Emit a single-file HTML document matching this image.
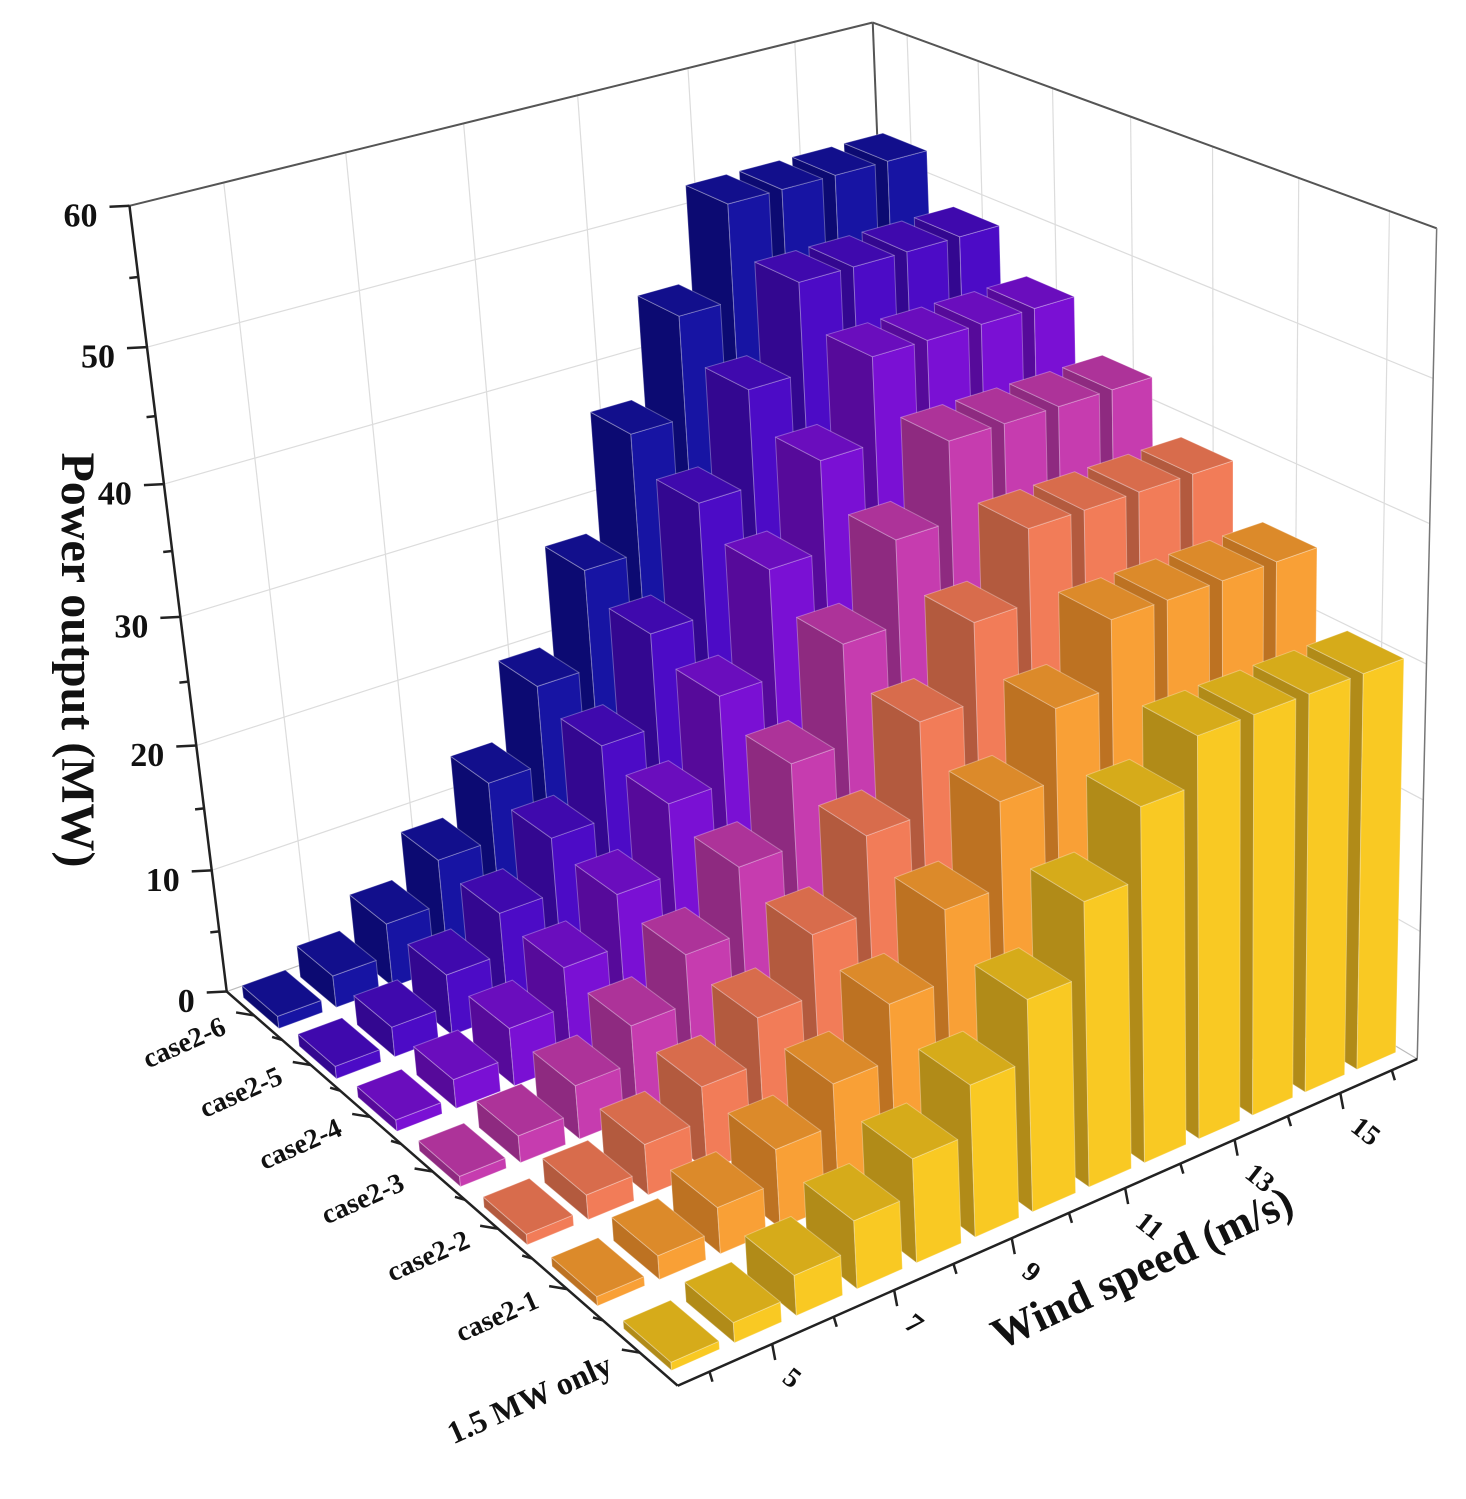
<!DOCTYPE html>
<html><head><meta charset="utf-8"><title>Power output 3D bars</title>
<style>
html,body{margin:0;padding:0;background:#fff;}
svg{display:block;}
text{font-family:"Liberation Serif",serif;font-weight:bold;fill:#111;}
</style></head>
<body>
<svg id="chart" width="1466" height="1499" viewBox="0 0 1466 1499" xmlns="http://www.w3.org/2000/svg">
  <rect x="0" y="0" width="1466" height="1499" fill="#fff"/>
  <g id="walls"></g>
  <g id="bars"></g>
  <g id="axes"></g>
  <text transform="translate(62,660) rotate(90)" text-anchor="middle" font-size="48">Power output (MW)</text>
  <text transform="translate(1142,1268) rotate(-25)" text-anchor="middle" dominant-baseline="central" font-size="44">Wind speed (m/s)</text>
</svg>
<script>
// ---- data ----
const winds = [4,5,6,7,8,9,10,11,12,13,14,15,16];
const cases = ['case2-6','case2-5','case2-4','case2-3','case2-2','case2-1','1.5 MW only'];
const case26 = [1.0,2.6,5.2,8.8,13.5,19.8,27.6,36.9,44.7,52,52,52,52];
const case25 = [1.0,2.4,4.9,8.2,12.6,18.4,25.7,34.4,41.7,48.5,48.5,48.5,48.5];
const case24 = [0.9,2.3,4.6,7.7,11.8,17.3,24.1,32.3,39.1,45.5,45.5,45.5,45.5];
const case23 = [0.8,2.1,4.2,7.1,10.9,16.0,22.3,29.8,36.1,42,42,42,42];
const case22 = [0.8,1.9,3.9,6.5,10.0,14.6,20.4,27.3,33.1,38.5,38.5,38.5,38.5];
const case21 = [0.7,1.8,3.5,6.0,9.1,13.3,18.6,24.9,30.1,35,35,35,35];
const only15 = [0.6,1.5,3.0,5.1,7.8,11.4,15.9,21.3,26.5,30,30,30,30];
const zTicks = [0,10,20,30,40,50,60];
const windTickLabels = [5,7,9,11,13,15];

const series = [case26,case25,case24,case23,case22,case21,only15];
const palette = [
  {f:'#1714a3',s:'#0c0a72',t:'#120f8c'},
  {f:'#4c0bc6',s:'#330790',t:'#3f09ad'},
  {f:'#7a10d4',s:'#560a9a',t:'#6a0dbd'},
  {f:'#c63caf',s:'#8e2a80',t:'#ad3399'},
  {f:'#f27c58',s:'#b35a3e',t:'#d86c4c'},
  {f:'#f9a036',s:'#bd7222',t:'#dc8a2a'},
  {f:'#f9c923',s:'#b18b18',t:'#d6ab1a'}
];

// ---- camera fit (DLT) ----
const calib = [
  [3.5,0.5,0,227,992],[3.5,0.5,60,130,205],[3.5,0.5,50,147,348],[16.5,0.5,60,872,22],
  [16.5,7.5,0,1415,1060],[16.5,7.5,60,1437,229],[3.5,7.5,0,673,1387],
  [5,7.5,0,776,1342],[15,7.5,0,1343,1092]
];
function solveLin(A,b){
  const n=b.length;
  for(let i=0;i<n;i++){
    let p=i;for(let k=i+1;k<n;k++)if(Math.abs(A[k][i])>Math.abs(A[p][i]))p=k;
    [A[i],A[p]]=[A[p],A[i]];[b[i],b[p]]=[b[p],b[i]];
    for(let k=i+1;k<n;k++){const f=A[k][i]/A[i][i];for(let j=i;j<n;j++)A[k][j]-=f*A[i][j];b[k]-=f*b[i];}
  }
  const x=new Array(n).fill(0);
  for(let i=n-1;i>=0;i--){let s=b[i];for(let j=i+1;j<n;j++)s-=A[i][j]*x[j];x[i]=s/A[i][i];}
  return x;
}
function fitCamera(){
  const M=[],r=[];
  calib.forEach(c=>{
    const X=c[0]/10,Y=c[1]/10,Z=c[2]/60,u=c[3]/1000,v=c[4]/1000;
    M.push([X,Y,Z,1,0,0,0,0,-u*X,-u*Y,-u*Z]);r.push(u);
    M.push([0,0,0,0,X,Y,Z,1,-v*X,-v*Y,-v*Z]);r.push(v);
  });
  const N=[],q=[];
  for(let i=0;i<11;i++){N.push(new Array(11).fill(0));q.push(0);
    for(let k=0;k<M.length;k++){q[i]+=M[k][i]*r[k];for(let j=0;j<11;j++)N[i][j]+=M[k][i]*M[k][j];}}
  return solveLin(N,q);
}
const P = fitCamera();
function proj(x,y,z){
  const X=x/10,Y=y/10,Z=z/60;
  const w=P[8]*X+P[9]*Y+P[10]*Z+1;
  return [1000*(P[0]*X+P[1]*Y+P[2]*Z+P[3])/w, 1000*(P[4]*X+P[5]*Y+P[6]*Z+P[7])/w];
}
const NS='http://www.w3.org/2000/svg';
const gW=document.getElementById('walls'),gB=document.getElementById('bars'),gA=document.getElementById('axes');
function line(g,a,b,stroke,w,name){
  const el=document.createElementNS(NS,'line');
  el.setAttribute('x1',a[0]);el.setAttribute('y1',a[1]);el.setAttribute('x2',b[0]);el.setAttribute('y2',b[1]);
  el.setAttribute('stroke',stroke);el.setAttribute('stroke-width',w);
  
  
  g.appendChild(el);return el;
}
function poly(g,pts,fill,name){
  const el=document.createElementNS(NS,'polygon');
  el.setAttribute('points',pts.map(p=>{const q=proj(p[0],p[1],p[2]);return q[0].toFixed(1)+','+q[1].toFixed(1);}).join(' '));
  el.setAttribute('fill',fill);el.setAttribute('stroke','rgba(255,255,255,0.3)');el.setAttribute('stroke-width','1');
  el.setAttribute('stroke-linejoin','round');
  
  
  g.appendChild(el);
}
function txt(g,x,y,s,size,anchor,rot,name){
  const el=document.createElementNS(NS,'text');
  el.setAttribute('transform','translate('+x.toFixed(1)+','+y.toFixed(1)+') rotate('+rot+')');
  el.setAttribute('font-size',size);el.setAttribute('text-anchor',anchor);el.setAttribute('dominant-baseline','central');
  el.textContent=s;
  
  
  g.appendChild(el);
}
const X0=3.5,X1=16.5,Y0=0.5,Y1=7.5,ZMAX=60;
// gridlines
const grid='#dcdcdc';
for(let z=10;z<ZMAX;z+=10){
  line(gW,proj(X0,Y0,z),proj(X1,Y0,z),grid,1.2,'back-wall-gridline');
  line(gW,proj(X1,Y0,z),proj(X1,Y1,z),grid,1.2,'side-wall-gridline');
}
for(let x=5;x<=15;x+=2) line(gW,proj(x,Y0,0),proj(x,Y0,ZMAX),grid,1.2,'back-wall-gridline');
for(let y=1;y<=7;y++) line(gW,proj(X1,y,0),proj(X1,y,ZMAX),grid,1.2,'side-wall-gridline');
line(gW,proj(X0,Y0,0),proj(X1,Y0,0),'#bbb',1.2,'back-floor-edge');
line(gW,proj(X1,Y0,0),proj(X1,Y1,0),'#bbb',1.2,'side-floor-edge');
line(gW,proj(X0,Y0,ZMAX),proj(X1,Y0,ZMAX),'#555',2,'box-top-back-edge');
line(gW,proj(X1,Y0,ZMAX),proj(X1,Y1,ZMAX),'#555',2,'box-top-side-edge');
line(gW,proj(X1,Y0,0),proj(X1,Y0,ZMAX),'#555',2,'box-back-corner-edge');
line(gW,proj(X1,Y1,0),proj(X1,Y1,ZMAX),'#777',1.5,'box-front-corner-edge');

// bars: rows back to front, columns right to left
const HW=0.38,HD=0.32;
for(let r=0;r<series.length;r++){
  const y=r+1,c=palette[r];
  for(let i=winds.length-1;i>=0;i--){
    const x=winds[i],h=series[r][i];
    const x0=x-HW,x1=x+HW,y0=y-HD,y1=y+HD;
    poly(gB,[[x0,y0,0],[x0,y1,0],[x0,y1,h],[x0,y0,h]],c.s,'bar-side');
    poly(gB,[[x0,y1,0],[x1,y1,0],[x1,y1,h],[x0,y1,h]],c.f,'bar-front');
    poly(gB,[[x0,y0,h],[x1,y0,h],[x1,y1,h],[x0,y1,h]],c.t,'bar-top');
  }
}

// axes
line(gA,proj(X0,Y0,0),proj(X0,Y0,ZMAX),'#222',2.5,'z-axis-line');
line(gA,proj(X0,Y0,0),proj(X0,Y1,0),'#222',2.5,'case-axis-line');
line(gA,proj(X0,Y1,0),proj(X1,Y1,0),'#222',2.5,'wind-axis-line');
for(let z=0;z<=ZMAX;z+=5){
  const p=proj(X0,Y0,z),len=(z%10===0)?20:9;
  line(gA,p,[p[0]-len,p[1]+1],'#222',2.5,'z-tick');
}
zTicks.forEach(z=>{const p=proj(X0,Y0,z);txt(gA,p[0]-32,p[1]+10,String(z),34,'end',0,'z-tick-label');});
for(let y=Y0;y<=Y1+0.01;y+=0.5){
  const p=proj(X0,y,0),len=(Math.abs(y-Math.round(y))<0.01)?18:10;
  if(y>Y0+0.01&&y<Y1-0.01) line(gA,p,[p[0]-len,p[1]-3],'#222',2.5,'case-tick');
}
cases.forEach((s,i)=>{const p=proj(X0,i+1,0);txt(gA,p[0]-30,p[1]+10,s,i===6?32:28,'end',-24,'case-tick-label');});
for(let x=4;x<=16;x++){
  const p=proj(x,Y1,0),len=(x%2===1)?16:10;
  line(gA,p,[p[0]+3,p[1]+len],'#222',2.5,'wind-tick');
}
windTickLabels.forEach(w=>{const p=proj(w,Y1,0);txt(gA,p[0]+14,p[1]+30,String(w),28,'start',38,'wind-tick-label');});
</script>
</body></html>
